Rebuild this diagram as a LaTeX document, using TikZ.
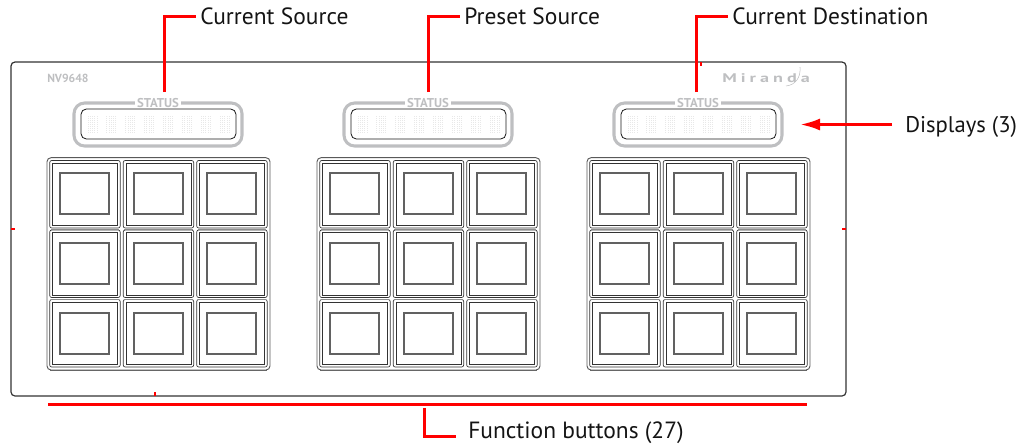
\documentclass[tikz,border=0pt]{standalone}
\usepackage{fontspec}
\setmainfont{PT Sans}
\usetikzlibrary{arrows.meta}
\definecolor{lead}{RGB}{255,0,0}
\definecolor{ringgray}{RGB}{190,191,193}
\tikzset{
  x=0.75pt,y=-0.75pt,
  lbl/.style={font=\fontsize{17.6}{20}\selectfont,inner sep=0pt,anchor=base west,text=black!92},
  leader/.style={draw=lead,line width=2.25pt},
  ring/.style={draw=ringgray,line width=2.3pt,rounded corners=8pt},
  window/.style={draw=black!90,line width=0.6pt,rounded corners=4pt},
  stat/.style={font=\bfseries\fontsize{9.6}{10}\selectfont,text=ringgray,fill=white,inner xsep=1.5pt,inner ysep=0.5pt},
  panel/.style={draw=black!80,line width=0.9pt,rounded corners=3pt},
  groupline/.style={draw=black!65,line width=0.7pt,rounded corners=3pt},
  keyouter/.style={draw=black!80,line width=0.5pt,rounded corners=1.5pt},
  keyinner/.style={draw=black!80,line width=0.5pt},
  keycap/.style={draw=black!62,line width=0.8pt},
  gapline/.style={draw=black!45,line width=0.7pt},
  tick/.style={draw=lead,line width=0.8pt},
  dot/.style={fill=black!9}
}
\begin{document}
\begin{tikzpicture}
\useasboundingbox (0,0) rectangle (1021,444);
% panel
\draw[panel] (11,62) rectangle (846,396);
\draw[tick] (11,229) -- (15,229);
\draw[tick] (842,229) -- (846,229);
\draw[tick] (155,392) -- (155,396);
\draw[tick] (701,62) -- (701,66);
\node[font=\bfseries\fontsize{8.8}{9}\selectfont,text=ringgray,inner sep=0pt,anchor=base west] (model) at (47,82) {NV9648};
\node[font=\bfseries\fontsize{9.4}{10}\selectfont,text=ringgray,inner sep=0pt,anchor=base west] (logo) at (722,82) {\addfontfeature{FakeStretch=1.45,LetterSpace=32}Miranda};
\draw[ringgray,line width=0.4pt] (786,86) .. controls (795,85) and (801,78) .. (800,67);
% three groups
\foreach \g/\dx in {1/0,2/270,3/540}{
  \begin{scope}[xshift=\dx*0.75pt]
    \draw[ring] (74,103) rectangle (242,146);
    \draw[window] (81,109) rectangle (236,139);
    \node[stat] (status\g) at (158,103) {STATUS};
    \foreach \c in {0,...,7}{
      \foreach \i in {0,...,4}{
        \foreach \j in {0,...,8}{
          \fill[dot] ({87.5+18.9*\c+2.25*\i},{115.5+2*\j}) rectangle +(1,1);
        }
      }
    }
    \draw[groupline] (47,157.7) rectangle (270,370);
    \draw[black!60,line width=0.9pt] (50,370.3) -- (267,370.3);
    \foreach \r in {0,1,2}{
      \foreach \bx/\sx in {49.7/60,123.2/134,196.7/207}{
        \draw[keyouter] (\bx,{160.5+69.5*\r}) rectangle ({\bx+70.5},{228+69.5*\r});
        \draw[keyinner] ({\bx+2.7},{163+69.5*\r}) rectangle ({\bx+67.8},{225.5+69.5*\r});
        \draw[keycap] (\sx,{173+70*\r}) rectangle ({\sx+49},{214+70*\r});
      }
    }
    \foreach \r in {0,1}{
      \foreach \bx in {49.7,123.2,196.7}{
        \draw[gapline] ({\bx+1},{229.5+69.5*\r}) -- ({\bx+69.5},{229.5+69.5*\r});
      }
    }
  \end{scope}
}
% labels and leaders
\node[lbl] (cs) at (200,24.5) {Current Source};
\node[lbl] (ps) at (464,24.5) {Preset Source};
\node[lbl] (cd) at (732,24.5) {Current Destination};
\node[lbl,font=\fontsize{17}{20}\selectfont] (di) at (905,132.5) {Displays (3)};
\node[lbl] (fb) at (468,438.5) {Function buttons (27)};
\coordinate (csend) at (164,92);
\coordinate (psend) at (428,92);
\coordinate (cdend) at (696,92);
\coordinate (dstart) at (892,124.5);
\coordinate (dend) at (800,124.5);
\coordinate (fbbarL) at (48,404.3);
\coordinate (fbbarR) at (807,404.3);
\coordinate (fbend) at (424,408);
\coordinate (fbturn) at (456,436.5);
\draw[leader] (csend) |- (196,16.3);
\draw[leader] (psend) |- (460,16.3);
\draw[leader] (cdend) |- (728,16.3);
\draw[leader,-{Latex[length=15pt,width=9pt]}] (dstart) -- (dend);
\draw[leader] (fbbarL) -- (fbbarR);
\draw[leader] (fbend) |- (fbturn);
\end{tikzpicture}
\end{document}
